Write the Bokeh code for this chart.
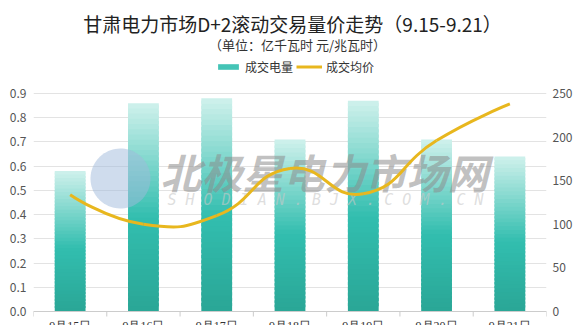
import numpy as np
from bokeh.plotting import figure
from bokeh.models import (ColumnDataSource, Range1d, LinearAxis, FixedTicker, Label, LabelSet,
                          Legend, LegendItem, PolyAnnotation, Span, NumeralTickFormatter)
from bokeh.embed import file_html
from bokeh.resources import INLINE

# ---------------- data ----------------
dates = ["9月15日", "9月16日", "9月17日", "9月18日", "9月19日", "9月20日", "9月21日"]
volume = [0.58, 0.86, 0.88, 0.71, 0.87, 0.71, 0.64]      # 亿千瓦时
price = [134, 100, 110, 164, 135, 196, 238]              # 元/兆瓦时
left_ticks = [0.0, 0.1, 0.2, 0.3, 0.4, 0.5, 0.6, 0.7, 0.8, 0.9]
right_ticks = [0, 50, 100, 150, 200, 250]
left_max, right_max = 0.9, 250
title_text = "甘肃电力市场D+2滚动交易量价走势（9.15-9.21）"
subtitle_text = "（单位：亿千瓦时 元/兆瓦时）"
legend_labels = ["成交电量", "成交均价"]
watermark_cn = "北极星电力市场网"
watermark_en = "S H O D I A N . B J X . C O M . C N"

FONT = "Noto Sans CJK SC"
TEAL_STOPS = [(0.0, (42, 166, 150)), (0.45, (50, 190, 175)), (1.0, (208, 241, 236))]
GOLD = "#e8b71e"

# layout (pixels)
W, H = 578, 325
LEFT, RIGHT = 33, 32
AREA_TOP, AREA_BOTTOM = 93, 311
px_per_unit = (AREA_BOTTOM - AREA_TOP) / left_max
y_lo = -(H - AREA_BOTTOM) / px_per_unit
y_hi = left_max + AREA_TOP / px_per_unit
scale_r = right_max / left_max

ncat = len(dates)
xc = [i + 0.5 for i in range(ncat)]
px_per_cat = (W - LEFT - RIGHT) / ncat

p = figure(width=W, height=H, x_range=Range1d(0, ncat), y_range=Range1d(y_lo, y_hi),
           output_backend="svg", toolbar_location=None, x_axis_type=None,
           min_border_left=LEFT, min_border_right=RIGHT, min_border_top=0, min_border_bottom=0)
p.outline_line_color = None
p.background_fill_color = "white"
p.border_fill_color = "white"
p.extra_y_ranges = {"price": Range1d(y_lo * scale_r, y_hi * scale_r)}

# ---------------- y axes ----------------
ly = p.yaxis[0]
ly.ticker = FixedTicker(ticks=left_ticks)
ly.formatter = NumeralTickFormatter(format="0.0")
ry = LinearAxis(y_range_name="price", ticker=FixedTicker(ticks=right_ticks))
p.add_layout(ry, "right")
for ax, so in [(ly, 7), (ry, 6)]:
    ax.axis_line_color = None
    ax.major_tick_line_color = None
    ax.minor_tick_line_color = None
    ax.major_tick_out = 0
    ax.major_tick_in = 0
    ax.minor_tick_out = 0
    ax.major_label_text_font = FONT
    ax.major_label_text_font_size = "12px"
    ax.major_label_text_color = "#555555"
    ax.major_label_standoff = so

p.xgrid.grid_line_color = None
p.ygrid.ticker = FixedTicker(ticks=left_ticks)
p.ygrid.grid_line_color = "#e3e3e3"
p.ygrid.grid_line_width = 1

# ---------------- category axis (line, boundary ticks, labels) ----------------
p.add_layout(Span(location=0, dimension="width", line_color="#cccccc", line_width=1))
bounds = list(range(ncat + 1))
p.segment(x0=bounds, y0=[0] * len(bounds), x1=bounds, y1=[-5 / px_per_unit] * len(bounds),
          line_color="#cccccc", line_width=1)
lab_src = ColumnDataSource(dict(x=xc, y=[-7 / px_per_unit] * ncat, text=dates))
p.add_layout(LabelSet(x="x", y="y", text="text", source=lab_src, text_font=FONT,
                      text_font_size="12px", text_color="#333333", text_align="center",
                      text_baseline="top"))

# ---------------- gradient bars ----------------
def grad(t):
    for (t0, c0), (t1, c1) in zip(TEAL_STOPS[:-1], TEAL_STOPS[1:]):
        if t0 <= t <= t1:
            f = (t - t0) / (t1 - t0)
            c = [int(round(a + (b - a) * f)) for a, b in zip(c0, c1)]
            return "#%02x%02x%02x" % tuple(c)
    return "#%02x%02x%02x" % TEAL_STOPS[-1][1]

N = 40
bx, bb, bt, bc = [], [], [], []
for i, v in enumerate(volume):
    for k in range(N):
        bx.append(xc[i])
        bb.append(v * k / N)
        bt.append(min(v, v * (k + 1.6) / N))
        bc.append(grad((k + 0.5) / N))
bar_src = ColumnDataSource(dict(x=bx, bottom=bb, top=bt, color=bc))
bars = p.vbar(x="x", bottom="bottom", top="top", width=0.42, fill_color="color",
              line_color=None, source=bar_src)

# ---------------- watermark ----------------
theta = np.linspace(0, 2 * np.pi, 80)
cx, cy, r = 87, 147, 30
logo = PolyAnnotation(xs=list(cx + r * np.cos(theta)), ys=list(cy + r * np.sin(theta)),
                      xs_units="screen", ys_units="screen", fill_color="#9fb9dc",
                      fill_alpha=0.5, line_color=None, level="glyph")
p.add_layout(logo)
wm1 = Label(x=127, y=155, x_units="screen", y_units="screen", text=watermark_cn,
            text_font=FONT, text_font_style="bold italic", text_font_size="41px",
            text_color="#8c8c8c", text_alpha=0.55, text_align="left", text_baseline="middle",
            level="glyph")
wm2 = Label(x=292, y=126, x_units="screen", y_units="screen", text=watermark_en,
            text_font="DejaVu Sans Mono", text_font_style="italic", text_font_size="15px",
            text_color="#c8c8c8", text_alpha=0.6, text_align="center", text_baseline="middle",
            level="glyph")
p.add_layout(wm1)
p.add_layout(wm2)

# ---------------- smooth price line (echarts-like smoothing, pixel-weighted) ----------------
ys = price
smooth = 0.5
py_per_price = px_per_unit / scale_r
cps = []
for i in range(ncat):
    if i == 0 or i == ncat - 1:
        cps.append(((xc[i], ys[i]), (xc[i], ys[i])))
    else:
        vx = xc[i + 1] - xc[i - 1]
        vy = ys[i + 1] - ys[i - 1]
        l0 = np.hypot((xc[i] - xc[i - 1]) * px_per_cat, (ys[i] - ys[i - 1]) * py_per_price)
        l1 = np.hypot((xc[i + 1] - xc[i]) * px_per_cat, (ys[i + 1] - ys[i]) * py_per_price)
        rn = l1 / (l0 + l1)
        cps.append(((xc[i] - vx * smooth * (1 - rn), ys[i] - vy * smooth * (1 - rn)),
                    (xc[i] + vx * smooth * rn, ys[i] + vy * smooth * rn)))
bz = dict(x0=xc[:-1], y0=ys[:-1], x1=xc[1:], y1=ys[1:],
          cx0=[cps[i][1][0] for i in range(ncat - 1)], cy0=[cps[i][1][1] for i in range(ncat - 1)],
          cx1=[cps[i + 1][0][0] for i in range(ncat - 1)], cy1=[cps[i + 1][0][1] for i in range(ncat - 1)])
curve = p.bezier(x0="x0", y0="y0", x1="x1", y1="y1", cx0="cx0", cy0="cy0", cx1="cx1", cy1="cy1",
                 source=ColumnDataSource(bz), line_color=GOLD, line_width=3, y_range_name="price")
curve.level = "overlay"

# ---------------- titles ----------------
p.add_layout(Label(x=259, y=H - 23, x_units="screen", y_units="screen", text=title_text,
                   text_font=FONT, text_font_size="19px", text_color="#222222",
                   text_align="center", text_baseline="middle"))
p.add_layout(Label(x=264, y=H - 44, x_units="screen", y_units="screen", text=subtitle_text,
                   text_font=FONT, text_font_size="13px", text_color="#333333",
                   text_align="center", text_baseline="middle"))

# ---------------- legend ----------------
legend_proxy = p.line(x=[xc[0]], y=[ys[0]], line_color=GOLD, line_width=3, y_range_name="price")
legend = Legend(items=[LegendItem(label=legend_labels[0], renderers=[bars], index=N // 2),
                       LegendItem(label=legend_labels[1], renderers=[legend_proxy])],
                location=(182, H - 75), orientation="horizontal", glyph_width=26, glyph_height=7,
                label_text_font=FONT, label_text_font_size="12px", label_text_color="#333333",
                label_standoff=4, spacing=3, padding=0, margin=0, label_height=12,
                border_line_color=None, background_fill_alpha=0)
p.add_layout(legend, "center")

open("out.html", "w").write(file_html(p, INLINE))
